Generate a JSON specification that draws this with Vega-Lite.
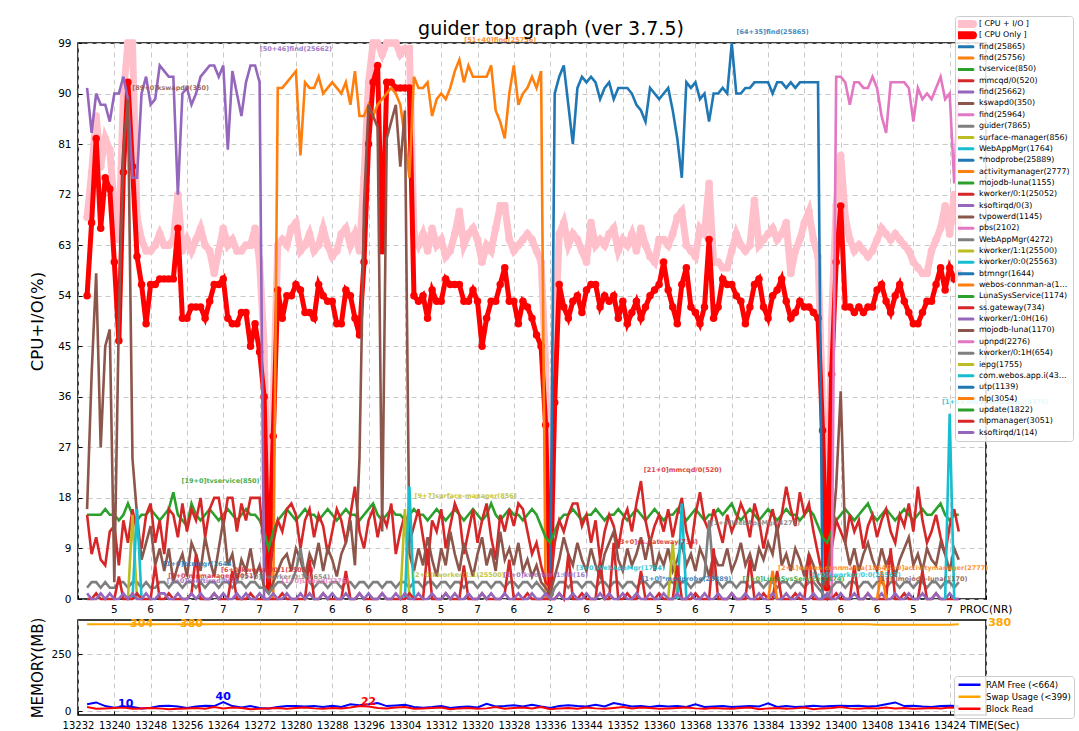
{
"$schema": "https://vega.github.io/schema/vega-lite/v6.json",
"background": "white",
"padding": {"left": 28, "top": 14, "right": 0, "bottom": 0},
"config": {
 "font": "DejaVu Sans",
 "view": {"stroke": "#000", "strokeWidth": 1.5},
 "axis": {"domain": false, "grid": true, "gridColor": "#c8c8c8", "gridDash": [5, 4], "gridWidth": 1, "tickColor": "#000", "tickSize": -4, "tickWidth": 1, "labelFont": "DejaVu Sans", "labelFontSize": 10.5, "labelColor": "#000", "titleFont": "DejaVu Sans", "titleFontWeight": "normal", "titleColor": "#000", "labelOverlap": false, "labelFlush": false},
 "legend": {"labelFont": "DejaVu Sans", "labelColor": "#000", "symbolLimit": 0}
},
"datasets": {
 "cpu": [
{"t":13234,"io":68,"cpu":54,"f1":91,"tv":15,"mm":15,"ks":16,"gd":2,"k1":0,"so":1},
{"t":13235,"io":76,"cpu":67,"f1":83,"tv":15,"mm":8,"ks":40,"gd":3,"k1":0,"so":0},
{"t":13236,"io":86,"cpu":82,"f1":90,"tv":15,"mm":11,"ks":58,"gd":3,"k1":1,"so":0},
{"t":13237,"io":77,"cpu":66,"f1":88,"tv":15,"mm":7,"ks":27,"gd":2,"k1":0,"so":1},
{"t":13238,"io":82,"cpu":75,"f1":88,"tv":16,"mm":6,"ks":45,"gd":3,"k1":0,"so":0},
{"t":13239,"io":80,"cpu":73,"f1":85,"tv":15,"mm":12,"ks":48,"gd":2,"k1":0,"so":1},
{"t":13240,"io":70,"cpu":60,"f1":90,"tv":15,"mm":13,"ks":3,"gd":2,"k1":0,"so":0},
{"t":13241,"io":64,"cpu":46,"f1":90,"tv":14,"mm":6,"ks":50,"gd":3,"k1":4,"so":0},
{"t":13242,"io":90,"cpu":76,"f1":93,"tv":15,"mm":14,"ks":80,"gd":3,"k1":0,"so":1},
{"t":13243,"io":99,"cpu":92,"f1":89,"tv":17,"mm":10,"ks":89,"gd":2,"k1":0,"so":0,"sm":0},
{"t":13244,"io":99,"cpu":77,"f1":75,"tv":15,"mm":16,"ks":25,"gd":3,"k1":0,"so":1,"sm":15,"wa":0},
{"t":13245,"io":68,"cpu":61,"f1":75,"tv":14,"mm":12,"ks":15,"gd":3,"k1":1,"so":0,"sm":0,"wa":16},
{"t":13246,"io":64,"cpu":56,"f1":90,"tv":15,"mm":9,"ks":7,"gd":2,"k1":0,"so":0,"wa":0},
{"t":13247,"io":62,"cpu":49,"f1":93,"tv":15,"mm":15,"ks":10,"gd":3,"k1":0,"so":1},
{"t":13248,"io":62,"cpu":56,"f1":88,"tv":16,"mm":17,"ks":13,"gd":2,"k1":0,"so":0},
{"t":13249,"io":63,"cpu":56,"f1":89,"tv":15,"mm":10,"ks":6,"gd":2,"k1":6,"so":0},
{"t":13250,"io":65,"cpu":57,"f1":95,"tv":14,"mm":14,"ks":9,"gd":3,"k1":0,"so":1},
{"t":13251,"io":63,"cpu":57,"f1":94,"tv":15,"mm":8,"ks":5,"gd":3,"k1":0,"so":1},
{"t":13252,"io":63,"cpu":57,"f1":93,"tv":16,"mm":16,"ks":9,"gd":2,"k1":1,"so":0},
{"t":13253,"io":64,"cpu":57,"f1":93,"tv":19,"mm":15,"ks":3,"gd":3,"k1":0,"so":0},
{"t":13254,"io":72,"cpu":66,"f1":72,"tv":15,"mm":11,"ks":6,"gd":3,"k1":0,"so":1},
{"t":13255,"io":62,"cpu":50,"f1":90,"tv":14,"mm":17,"ks":8,"gd":2,"k1":0,"so":0},
{"t":13256,"io":64,"cpu":50,"f1":91,"tv":13,"mm":12,"ks":4,"gd":3,"k1":0,"so":0},
{"t":13257,"io":62,"cpu":52,"f1":88,"tv":17,"mm":16,"ks":10,"gd":3,"k1":1,"so":1},
{"t":13258,"io":64,"cpu":52,"f1":90,"tv":15,"mm":14,"ks":8,"gd":2,"k1":8,"so":0},
{"t":13259,"io":66,"cpu":52,"f1":93,"tv":14,"mm":18,"ks":5,"gd":3,"k1":0,"so":1},
{"t":13260,"io":63,"cpu":50,"f1":94,"tv":15,"mm":11,"ks":11,"gd":2,"k1":0,"so":0},
{"t":13261,"io":62,"cpu":53,"f1":95,"tv":16,"mm":16,"ks":7,"gd":3,"k1":0,"so":0},
{"t":13262,"io":58,"cpu":56,"f1":95,"tv":15,"mm":18,"ks":4,"gd":3,"k1":1,"so":1},
{"t":13263,"io":62,"cpu":56,"f1":93,"tv":14,"mm":18,"ks":9,"gd":2,"k1":0,"so":0},
{"t":13264,"io":66,"cpu":57,"f1":95,"tv":15,"mm":13,"ks":14,"gd":3,"k1":0,"so":1},
{"t":13265,"io":63,"cpu":50,"f1":80,"tv":16,"mm":18,"ks":6,"gd":3,"k1":0,"so":0},
{"t":13266,"io":64,"cpu":49,"f1":94,"tv":15,"mm":18,"ks":8,"gd":2,"k1":5,"so":0},
{"t":13267,"io":62,"cpu":49,"f1":90,"tv":14,"mm":12,"ks":3,"gd":3,"k1":0,"so":1},
{"t":13268,"io":62,"cpu":51,"f1":86,"tv":15,"mm":17,"ks":7,"gd":3,"k1":0,"so":0},
{"t":13269,"io":63,"cpu":51,"f1":92,"tv":16,"mm":14,"ks":5,"gd":2,"k1":0,"so":1},
{"t":13270,"io":63,"cpu":45,"f1":95,"tv":15,"mm":18,"ks":9,"gd":3,"k1":1,"so":0},
{"t":13271,"io":66,"cpu":49,"f1":95,"tv":15,"mm":18,"ks":4,"gd":3,"k1":0,"so":0},
{"t":13272,"io":60,"cpu":44,"f1":92,"tv":14,"mm":18,"ks":6,"gd":2,"k1":0,"so":1},
{"t":13273,"io":45,"cpu":36,"f1":0,"tv":12,"mm":8,"ks":2,"gd":2,"k1":0,"so":0},
{"t":13274,"io":5,"cpu":2,"tv":9,"mm":3,"ks":1,"gd":1,"k1":0,"so":0},
{"t":13275,"io":35,"cpu":29,"f2":0,"tv":12,"mm":10,"ks":3,"gd":2,"k1":0,"so":1},
{"t":13276,"io":63,"cpu":55,"f2":91,"tv":14,"mm":14,"ks":5,"gd":3,"k1":0,"so":0},
{"t":13277,"io":64,"cpu":50,"f2":91,"tv":15,"mm":12,"ks":7,"gd":3,"k1":1,"so":0},
{"t":13278,"io":63,"cpu":54,"f2":92,"tv":16,"mm":16,"ks":8,"gd":2,"k1":0,"so":1},
{"t":13279,"io":66,"cpu":54,"f2":93,"tv":15,"mm":17,"ks":5,"gd":3,"k1":0,"so":0},
{"t":13280,"io":67,"cpu":56,"f2":94,"tv":14,"mm":15,"ks":9,"gd":5,"k1":0,"so":0},
{"t":13281,"io":62,"cpu":55,"f2":79,"tv":15,"mm":9,"ks":7,"gd":9,"k1":0,"so":1},
{"t":13282,"io":63,"cpu":51,"f2":92,"tv":16,"mm":14,"ks":4,"gd":4,"k1":0,"so":0},
{"t":13283,"io":65,"cpu":51,"f2":91,"tv":15,"mm":16,"ks":8,"gd":3,"k1":7,"so":1},
{"t":13284,"io":62,"cpu":50,"f2":91,"tv":15,"mm":11,"ks":6,"gd":2,"k1":0,"so":0},
{"t":13285,"io":63,"cpu":56,"f2":93,"tv":14,"mm":15,"ks":10,"gd":3,"k1":0,"so":0},
{"t":13286,"io":66,"cpu":54,"f2":90,"tv":15,"mm":13,"ks":5,"gd":3,"k1":1,"so":1},
{"t":13287,"io":63,"cpu":53,"f2":91,"tv":16,"mm":8,"ks":9,"gd":2,"k1":0,"so":0},
{"t":13288,"io":61,"cpu":53,"f2":92,"tv":15,"mm":12,"ks":7,"gd":3,"k1":0,"so":1},
{"t":13289,"io":62,"cpu":49,"f2":91,"tv":14,"mm":16,"ks":4,"gd":3,"k1":0,"so":0},
{"t":13290,"io":65,"cpu":49,"f2":90,"tv":15,"mm":14,"ks":8,"gd":2,"k1":0,"so":0},
{"t":13291,"io":66,"cpu":55,"f2":92,"tv":16,"mm":10,"ks":10,"gd":3,"k1":5,"so":1},
{"t":13292,"io":63,"cpu":54,"f2":88,"tv":15,"mm":15,"ks":14,"gd":3,"k1":0,"so":0},
{"t":13293,"io":65,"cpu":50,"f2":94,"tv":15,"mm":20,"ks":6,"gd":2,"k1":0,"so":0},
{"t":13294,"io":62,"cpu":47,"f2":86,"tv":14,"mm":12,"ks":25,"gd":3,"k1":1,"so":1},
{"t":13295,"io":75,"cpu":60,"f2":86,"tv":15,"mm":9,"ks":70,"gd":3,"k1":0,"so":0},
{"t":13296,"io":92,"cpu":81,"f2":88,"tv":16,"mm":14,"ks":88,"gd":2,"k1":0,"so":1},
{"t":13297,"io":99,"cpu":92,"f2":86,"tv":17,"mm":16,"ks":86,"gd":3,"k1":0,"so":0},
{"t":13298,"io":99,"cpu":95,"f2":88,"tv":15,"mm":11,"ks":84,"gd":3,"k1":0,"so":0},
{"t":13299,"io":97,"cpu":62,"f2":89,"tv":14,"mm":15,"ks":12,"gd":2,"k1":1,"so":1},
{"t":13300,"io":99,"cpu":92,"f2":90,"tv":15,"mm":13,"ks":82,"gd":3,"k1":0,"so":0},
{"t":13301,"io":99,"cpu":92,"f2":91,"tv":16,"mm":17,"ks":85,"gd":3,"k1":0,"so":0},
{"t":13302,"io":99,"cpu":91,"f2":90,"tv":15,"mm":8,"ks":88,"gd":2,"k1":0,"so":1},
{"t":13303,"io":97,"cpu":91,"f2":88,"tv":15,"mm":12,"ks":77,"gd":3,"k1":0,"so":0,"sm":0},
{"t":13304,"io":98,"cpu":91,"f2":82,"tv":14,"mm":15,"ks":87,"gd":3,"k1":0,"so":1,"sm":16,"wa":0},
{"t":13305,"io":98,"cpu":91,"f2":75,"tv":15,"mm":10,"ks":8,"gd":2,"k1":1,"so":0,"sm":0,"wa":20},
{"t":13306,"io":65,"cpu":54,"f2":93,"tv":16,"mm":13,"ks":5,"gd":3,"k1":0,"so":0,"wa":0},
{"t":13307,"io":63,"cpu":53,"f2":91,"tv":15,"mm":16,"ks":9,"gd":3,"k1":0,"so":1},
{"t":13308,"io":65,"cpu":54,"f2":91,"tv":15,"mm":11,"ks":6,"gd":2,"k1":0,"so":0},
{"t":13309,"io":62,"cpu":50,"f2":92,"tv":14,"mm":6,"ks":11,"gd":3,"k1":9,"so":0},
{"t":13310,"io":66,"cpu":55,"f2":86,"tv":15,"mm":14,"ks":7,"gd":3,"k1":0,"so":1},
{"t":13311,"io":63,"cpu":53,"f2":89,"tv":16,"mm":12,"ks":4,"gd":2,"k1":0,"so":0},
{"t":13312,"io":64,"cpu":53,"f2":90,"tv":15,"mm":16,"ks":9,"gd":3,"k1":0,"so":0},
{"t":13313,"io":61,"cpu":57,"f2":89,"tv":14,"mm":9,"ks":6,"gd":3,"k1":1,"so":1},
{"t":13314,"io":62,"cpu":56,"f2":91,"tv":15,"mm":13,"ks":12,"gd":2,"k1":0,"so":0},
{"t":13315,"io":65,"cpu":56,"f2":94,"tv":16,"mm":17,"ks":8,"gd":3,"k1":0,"so":1},
{"t":13316,"io":69,"cpu":56,"f2":96,"tv":15,"mm":15,"ks":5,"gd":3,"k1":0,"so":0},
{"t":13317,"io":63,"cpu":53,"f2":92,"tv":14,"mm":8,"ks":10,"gd":2,"k1":6,"so":0},
{"t":13318,"io":65,"cpu":53,"f2":95,"tv":15,"mm":12,"ks":7,"gd":3,"k1":0,"so":1},
{"t":13319,"io":66,"cpu":55,"f2":93,"tv":16,"mm":16,"ks":4,"gd":3,"k1":0,"so":0},
{"t":13320,"io":64,"cpu":53,"f2":93,"tv":15,"mm":10,"ks":8,"gd":2,"k1":0,"so":0},
{"t":13321,"io":60,"cpu":45,"f2":93,"tv":14,"mm":14,"ks":11,"gd":3,"k1":1,"so":1},
{"t":13322,"io":63,"cpu":50,"f2":93,"tv":15,"mm":17,"ks":6,"gd":3,"k1":0,"so":0},
{"t":13323,"io":62,"cpu":53,"f2":95,"tv":17,"mm":11,"ks":9,"gd":2,"k1":0,"so":1},
{"t":13324,"io":66,"cpu":53,"f2":87,"tv":15,"mm":7,"ks":5,"gd":3,"k1":0,"so":0},
{"t":13325,"io":70,"cpu":56,"f2":85,"tv":14,"mm":15,"ks":12,"gd":3,"k1":0,"so":0},
{"t":13326,"io":70,"cpu":59,"f2":82,"tv":15,"mm":12,"ks":7,"gd":2,"k1":1,"so":1},
{"t":13327,"io":64,"cpu":53,"f2":90,"tv":16,"mm":16,"ks":9,"gd":3,"k1":7,"so":0},
{"t":13328,"io":62,"cpu":53,"f2":95,"tv":15,"mm":13,"ks":6,"gd":3,"k1":0,"so":0},
{"t":13329,"io":63,"cpu":49,"f2":88,"tv":15,"mm":17,"ks":10,"gd":2,"k1":0,"so":1},
{"t":13330,"io":64,"cpu":53,"f2":90,"tv":14,"mm":16,"ks":5,"gd":3,"k1":0,"so":0},
{"t":13331,"io":65,"cpu":52,"f2":91,"tv":15,"mm":12,"ks":7,"gd":3,"k1":1,"so":0},
{"t":13332,"io":64,"cpu":50,"f2":93,"tv":16,"mm":8,"ks":4,"gd":2,"k1":0,"so":1},
{"t":13333,"io":62,"cpu":47,"f2":91,"tv":15,"mm":10,"ks":6,"gd":3,"k1":0,"so":0},
{"t":13334,"io":60,"cpu":45,"f2":94,"tv":13,"mm":6,"ks":3,"gd":2,"k1":0,"so":0},
{"t":13335,"io":42,"cpu":31,"f2":0,"tv":11,"mm":3,"ks":2,"gd":1,"k1":0,"so":1},
{"t":13336,"io":3,"cpu":1,"f3":0,"tv":10,"mm":2,"ks":1,"gd":0,"k1":0,"so":0},
{"t":13337,"io":45,"cpu":35,"f3":90,"tv":12,"mm":10,"ks":4,"gd":2,"k1":0,"so":0},
{"t":13338,"io":65,"cpu":56,"f3":93,"tv":14,"mm":14,"ks":7,"gd":3,"k1":1,"so":1},
{"t":13339,"io":67,"cpu":52,"f3":95,"tv":15,"mm":12,"ks":11,"gd":3,"k1":0,"so":0},
{"t":13340,"io":63,"cpu":50,"f3":88,"tv":15,"mm":15,"ks":8,"gd":2,"k1":8,"so":0},
{"t":13341,"io":65,"cpu":53,"f3":81,"tv":16,"mm":17,"ks":6,"gd":3,"k1":0,"so":1},
{"t":13342,"io":64,"cpu":54,"f3":91,"tv":15,"mm":17,"ks":10,"gd":3,"k1":0,"so":0},
{"t":13343,"io":62,"cpu":51,"f3":93,"tv":14,"mm":13,"ks":7,"gd":2,"k1":1,"so":0},
{"t":13344,"io":60,"cpu":55,"f3":92,"tv":15,"mm":15,"ks":5,"gd":3,"k1":0,"so":1},
{"t":13345,"io":67,"cpu":56,"f3":93,"tv":15,"mm":10,"ks":9,"gd":3,"k1":0,"so":0},
{"t":13346,"io":63,"cpu":56,"f3":92,"tv":16,"mm":14,"ks":6,"gd":2,"k1":0,"so":0},
{"t":13347,"io":64,"cpu":52,"f3":89,"tv":15,"mm":7,"ks":4,"gd":3,"k1":7,"so":1},
{"t":13348,"io":63,"cpu":54,"f3":91,"tv":14,"mm":12,"ks":8,"gd":3,"k1":0,"so":0},
{"t":13349,"io":65,"cpu":53,"f3":92,"tv":15,"mm":15,"ks":10,"gd":2,"k1":0,"so":1},
{"t":13350,"io":66,"cpu":54,"f3":89,"tv":15,"mm":13,"ks":12,"gd":3,"k1":10,"so":0},
{"t":13351,"io":62,"cpu":50,"f3":91,"tv":16,"mm":9,"ks":7,"gd":3,"k1":0,"so":0},
{"t":13352,"io":64,"cpu":53,"f3":91,"tv":15,"mm":14,"ks":5,"gd":2,"k1":0,"so":1},
{"t":13353,"io":63,"cpu":49,"f3":91,"tv":14,"mm":16,"ks":9,"gd":3,"k1":1,"so":0},
{"t":13354,"io":65,"cpu":51,"f3":90,"tv":15,"mm":12,"ks":6,"gd":3,"k1":0,"so":0},
{"t":13355,"io":62,"cpu":53,"f3":88,"tv":16,"mm":17,"ks":8,"gd":2,"k1":0,"so":1},
{"t":13356,"io":66,"cpu":50,"f3":87,"tv":15,"mm":21,"ks":11,"gd":3,"k1":5,"so":0},
{"t":13357,"io":63,"cpu":52,"f3":85,"tv":14,"mm":14,"ks":7,"gd":3,"k1":0,"so":0},
{"t":13358,"io":61,"cpu":54,"f3":91,"tv":15,"mm":10,"ks":11,"gd":2,"k1":0,"so":1},
{"t":13359,"io":60,"cpu":55,"f3":90,"tv":16,"mm":13,"ks":5,"gd":3,"k1":0,"so":0},
{"t":13360,"io":64,"cpu":56,"f3":89,"tv":15,"mm":15,"ks":8,"gd":3,"k1":1,"so":0},
{"t":13361,"io":64,"cpu":60,"f3":90,"tv":14,"mm":12,"ks":6,"gd":2,"k1":0,"so":1},
{"t":13362,"io":63,"cpu":55,"f3":91,"tv":15,"mm":16,"ks":9,"gd":3,"k1":0,"so":0,"sm":0},
{"t":13363,"io":65,"cpu":52,"f3":87,"tv":15,"mm":11,"ks":5,"gd":3,"k1":0,"so":0,"sm":10},
{"t":13364,"io":68,"cpu":49,"f3":82,"tv":16,"mm":15,"ks":7,"gd":2,"k1":6,"so":1,"sm":0,"wa":0},
{"t":13365,"io":69,"cpu":56,"f3":75,"tv":15,"mm":18,"ks":10,"gd":3,"k1":0,"so":0,"wa":17},
{"t":13366,"io":63,"cpu":59,"f3":92,"tv":14,"mm":12,"ks":6,"gd":3,"k1":0,"so":0,"wa":0},
{"t":13367,"io":62,"cpu":52,"f3":91,"tv":15,"mm":9,"ks":8,"gd":2,"k1":0,"so":1},
{"t":13368,"io":61,"cpu":51,"f3":92,"tv":16,"mm":15,"ks":5,"gd":3,"k1":1,"so":0},
{"t":13369,"io":66,"cpu":49,"f3":89,"tv":15,"mm":19,"ks":9,"gd":3,"k1":0,"so":0},
{"t":13370,"io":65,"cpu":52,"f3":90,"tv":14,"mm":14,"ks":7,"gd":4,"k1":0,"so":1},
{"t":13371,"io":74,"cpu":64,"f3":85,"tv":15,"mm":12,"ks":4,"gd":14,"k1":0,"so":0},
{"t":13372,"io":60,"cpu":50,"f3":90,"tv":15,"mm":16,"ks":8,"gd":4,"k1":9,"so":0},
{"t":13373,"io":60,"cpu":52,"f3":90,"tv":16,"mm":13,"ks":6,"gd":3,"k1":0,"so":1},
{"t":13374,"io":59,"cpu":57,"f3":91,"tv":15,"mm":10,"ks":6,"gd":2,"k1":0,"so":0},
{"t":13375,"io":59,"cpu":56,"f3":90,"tv":16,"mm":15,"ks":9,"gd":3,"k1":0,"so":0},
{"t":13376,"io":62,"cpu":56,"f3":99,"tv":17,"mm":12,"ks":5,"gd":3,"k1":1,"so":1},
{"t":13377,"io":65,"cpu":54,"f3":90,"tv":15,"mm":14,"ks":7,"gd":2,"k1":0,"so":0},
{"t":13378,"io":63,"cpu":53,"f3":90,"tv":14,"mm":17,"ks":10,"gd":3,"k1":0,"so":0},
{"t":13379,"io":62,"cpu":49,"f3":91,"tv":15,"mm":15,"ks":6,"gd":3,"k1":0,"so":1},
{"t":13380,"io":63,"cpu":52,"f3":91,"tv":16,"mm":11,"ks":8,"gd":2,"k1":7,"so":0},
{"t":13381,"io":71,"cpu":56,"f3":92,"tv":15,"mm":17,"ks":5,"gd":3,"k1":0,"so":0},
{"t":13382,"io":63,"cpu":57,"f3":92,"tv":14,"mm":14,"ks":9,"gd":3,"k1":0,"so":1},
{"t":13383,"io":64,"cpu":52,"f3":92,"tv":15,"mm":9,"ks":7,"gd":2,"k1":1,"so":0},
{"t":13384,"io":65,"cpu":50,"f3":92,"tv":16,"mm":13,"ks":10,"gd":3,"k1":0,"so":0,"am":0},
{"t":13385,"io":66,"cpu":54,"f3":90,"tv":15,"mm":16,"ks":8,"gd":3,"k1":0,"so":1,"am":5},
{"t":13386,"io":64,"cpu":55,"f3":92,"tv":14,"mm":12,"ks":13,"gd":2,"k1":5,"so":0,"am":0},
{"t":13387,"io":65,"cpu":57,"f3":92,"tv":15,"mm":15,"ks":6,"gd":3,"k1":0,"so":0},
{"t":13388,"io":67,"cpu":53,"f3":91,"tv":16,"mm":20,"ks":8,"gd":3,"k1":0,"so":1},
{"t":13389,"io":58,"cpu":50,"f3":92,"tv":15,"mm":16,"ks":5,"gd":2,"k1":0,"so":0},
{"t":13390,"io":62,"cpu":51,"f3":91,"tv":15,"mm":13,"ks":9,"gd":3,"k1":1,"so":0},
{"t":13391,"io":64,"cpu":53,"f3":92,"tv":14,"mm":19,"ks":7,"gd":3,"k1":0,"so":1},
{"t":13392,"io":67,"cpu":52,"f3":92,"tv":15,"mm":15,"ks":4,"gd":2,"k1":0,"so":0},
{"t":13393,"io":69,"cpu":52,"f3":92,"tv":16,"mm":17,"ks":8,"gd":3,"k1":8,"so":0},
{"t":13394,"io":64,"cpu":51,"f3":92,"tv":15,"mm":12,"ks":6,"gd":3,"k1":0,"so":1},
{"t":13395,"io":61,"cpu":50,"f3":92,"tv":13,"mm":8,"ks":3,"gd":2,"k1":0,"so":0},
{"t":13396,"io":35,"cpu":30,"f3":0,"tv":11,"mm":4,"ks":2,"gd":1,"k1":0,"so":0},
{"t":13397,"io":4,"cpu":2,"tv":10,"mm":2,"ks":5,"gd":0,"k1":0,"so":1},
{"t":13398,"io":50,"cpu":40,"f4":0,"tv":12,"mm":9,"ks":10,"gd":2,"k1":0,"so":0},
{"t":13399,"io":70,"cpu":60,"f4":93,"tv":14,"mm":14,"ks":20,"gd":3,"k1":1,"so":0},
{"t":13400,"io":79,"cpu":70,"f4":93,"tv":15,"mm":12,"ks":37,"gd":3,"k1":0,"so":1},
{"t":13401,"io":68,"cpu":52,"f4":92,"tv":16,"mm":10,"ks":10,"gd":2,"k1":0,"so":0},
{"t":13402,"io":64,"cpu":52,"f4":88,"tv":15,"mm":15,"ks":6,"gd":3,"k1":0,"so":0},
{"t":13403,"io":62,"cpu":51,"f4":92,"tv":14,"mm":12,"ks":9,"gd":3,"k1":6,"so":1},
{"t":13404,"io":63,"cpu":52,"f4":92,"tv":15,"mm":14,"ks":5,"gd":2,"k1":0,"so":0},
{"t":13405,"io":62,"cpu":51,"f4":91,"tv":16,"mm":9,"ks":8,"gd":3,"k1":0,"so":0},
{"t":13406,"io":61,"cpu":52,"f4":91,"tv":17,"mm":13,"ks":10,"gd":3,"k1":1,"so":1},
{"t":13407,"io":62,"cpu":52,"f4":93,"tv":15,"mm":15,"ks":7,"gd":2,"k1":0,"so":0},
{"t":13408,"io":64,"cpu":55,"f4":91,"tv":14,"mm":11,"ks":5,"gd":3,"k1":0,"so":0,"am":0},
{"t":13409,"io":66,"cpu":56,"f4":86,"tv":15,"mm":14,"ks":9,"gd":3,"k1":0,"so":1,"am":5},
{"t":13410,"io":65,"cpu":53,"f4":83,"tv":16,"mm":16,"ks":6,"gd":2,"k1":0,"so":0,"am":0},
{"t":13411,"io":64,"cpu":51,"f4":92,"tv":15,"mm":12,"ks":8,"gd":3,"k1":9,"so":0},
{"t":13412,"io":65,"cpu":54,"f4":92,"tv":14,"mm":10,"ks":4,"gd":3,"k1":0,"so":1},
{"t":13413,"io":64,"cpu":56,"f4":92,"tv":15,"mm":15,"ks":7,"gd":2,"k1":0,"so":0},
{"t":13414,"io":63,"cpu":53,"f4":92,"tv":16,"mm":13,"ks":9,"gd":3,"k1":1,"so":0},
{"t":13415,"io":62,"cpu":51,"f4":91,"tv":15,"mm":17,"ks":11,"gd":3,"k1":0,"so":1},
{"t":13416,"io":60,"cpu":49,"f4":85,"tv":14,"mm":12,"ks":6,"gd":2,"k1":0,"so":0},
{"t":13417,"io":59,"cpu":49,"f4":91,"tv":15,"mm":20,"ks":8,"gd":3,"k1":0,"so":0},
{"t":13418,"io":58,"cpu":51,"f4":89,"tv":16,"mm":14,"ks":5,"gd":3,"k1":5,"so":1},
{"t":13419,"io":58,"cpu":53,"f4":90,"tv":15,"mm":10,"ks":9,"gd":2,"k1":0,"so":0},
{"t":13420,"io":62,"cpu":53,"f4":89,"tv":15,"mm":12,"ks":7,"gd":3,"k1":0,"so":0},
{"t":13421,"io":64,"cpu":56,"f4":91,"tv":16,"mm":15,"ks":6,"gd":3,"k1":1,"so":1},
{"t":13422,"io":66,"cpu":59,"f4":93,"tv":17,"mm":11,"ks":10,"gd":2,"k1":0,"so":0},
{"t":13423,"io":70,"cpu":55,"f4":89,"tv":15,"mm":8,"ks":8,"gd":3,"k1":0,"so":0,"cw":0},
{"t":13424,"io":65,"cpu":59,"f4":90,"tv":14,"mm":13,"ks":5,"gd":3,"k1":0,"so":1,"cw":33},
{"t":13425,"io":72,"cpu":57,"f4":74,"tv":15,"mm":16,"ks":9,"gd":2,"k1":0,"so":0,"cw":0},
{"t":13426,"io":66,"cpu":58,"f4":93,"tv":15,"mm":12,"ks":7,"gd":3,"k1":0,"so":0}
 ],
 "notes": [
{"t":13280,"v":98,"txt":"[50+46]find(25662)","s":"f1"},
{"t":13252.4,"v":91,"txt":"[89+0]kswapd0(350)","s":"ks"},
{"t":13325,"v":99.6,"txt":"[51+40]find(25756)","s":"f2"},
{"t":13385,"v":101,"txt":"[64+35]find(25865)","s":"f3"},
{"t":13263.4,"v":21,"txt":"[19+0]tvservice(850)","s":"tv"},
{"t":13365.2,"v":23,"txt":"[21+0]mmcqd/0(520)","s":"mm"},
{"t":13317.4,"v":18.3,"txt":"[9+7]surface-manager(856)","s":"sm"},
{"t":13359.6,"v":10.1,"txt":"[3+0]ss.gateway(734)","s":"ss"},
{"t":13381.2,"v":13.5,"txt":"[1+4]WebAppMgr(4272)","s":"w2"},
{"t":13351.5,"v":5.6,"txt":"[3+0]WebAppMgr(1764)","s":"wa"},
{"t":13366,"v":3.5,"txt":"[1+0]*modprobe(25889)","s":"mp"},
{"t":13389.6,"v":3.5,"txt":"[1+0]LunaSysService(1174)","s":"lu"},
{"t":13398.4,"v":5.6,"txt":"[2+1]webos-connman-a(1864)","s":"wc"},
{"t":13403,"v":4.2,"txt":"[1+0]kworker/0:0(25563)","s":"k00"},
{"t":13421,"v":5.6,"txt":"[2+0]activitymanager(2777)","s":"am"},
{"t":13418,"v":3.5,"txt":"[1+0]mojodb-luna(1170)","s":"mj2"},
{"t":13434,"v":35,"txt":"[1+0]com.webos.app.i(4375)","s":"cw"},
{"t":13258.6,"v":6.2,"txt":"[1+0]btmngr(1644)","s":"bt"},
{"t":13273.7,"v":5.1,"txt":"[6+0]kworker/0:1(25052)","s":"k1"},
{"t":13261.6,"v":4.1,"txt":"[2+0]nlpmanager(3051)","s":"nm"},
{"t":13277.7,"v":4,"txt":"[1+0]kworker/0:1H(654)","s":"k01h"},
{"t":13259.4,"v":3.2,"txt":"[1+0]ksoftirqd/0(3)","s":"so"},
{"t":13284.3,"v":3.2,"txt":"[1+0]upnpd(2276)","s":"up"},
{"t":13315.8,"v":4.3,"txt":"[2+0]kworker/1:1(25500)","s":"k11"},
{"t":13335,"v":4.3,"txt":"[1+0]kworker/1:0H(16)","s":"k10h"}
 ],
 "proc": [
{"t":13240,"n":"5"},{"t":13248,"n":"6"},{"t":13256,"n":"7"},{"t":13264,"n":"7"},{"t":13272,"n":"7"},{"t":13280,"n":"7"},{"t":13288,"n":"6"},{"t":13296,"n":"6"},{"t":13304,"n":"8"},{"t":13312,"n":"5"},{"t":13320,"n":"7"},{"t":13328,"n":"6"},{"t":13336,"n":"2"},{"t":13344,"n":"6"},{"t":13360,"n":"5"},{"t":13368,"n":"6"},{"t":13376,"n":"7"},{"t":13384,"n":"5"},{"t":13392,"n":"5"},{"t":13400,"n":"6"},{"t":13408,"n":"6"},{"t":13416,"n":"5"},{"t":13424,"n":"7"},{"t":13432,"n":"PROC(NR)"}
 ],
 "mem": [
{"t":13234,"ram":30,"blk":18,"swap":380},{"t":13236,"ram":38,"blk":10,"swap":380},{"t":13238,"ram":22,"blk":12,"swap":380},{"t":13240,"ram":15,"blk":14,"swap":380},
{"t":13242,"ram":20,"blk":16,"swap":380},{"t":13244,"ram":18,"blk":10,"swap":380},{"t":13246,"ram":12,"blk":12,"swap":380},{"t":13248,"ram":15,"blk":14,"swap":380},
{"t":13250,"ram":22,"blk":12,"swap":380},{"t":13252,"ram":24,"blk":8,"swap":380},{"t":13254,"ram":20,"blk":10,"swap":380},{"t":13256,"ram":14,"blk":12,"swap":380},
{"t":13258,"ram":20,"blk":14,"swap":380},{"t":13260,"ram":24,"blk":10,"swap":380},{"t":13262,"ram":22,"blk":18,"swap":380},{"t":13264,"ram":40,"blk":12,"swap":380},
{"t":13266,"ram":22,"blk":16,"swap":380},{"t":13268,"ram":16,"blk":14,"swap":380},{"t":13270,"ram":22,"blk":8,"swap":380},{"t":13272,"ram":14,"blk":10,"swap":380},
{"t":13274,"ram":12,"blk":12,"swap":380},{"t":13276,"ram":18,"blk":14,"swap":380},{"t":13278,"ram":22,"blk":10,"swap":380},{"t":13280,"ram":22,"blk":14,"swap":380},
{"t":13282,"ram":20,"blk":16,"swap":380},{"t":13284,"ram":22,"blk":12,"swap":380},{"t":13286,"ram":18,"blk":10,"swap":380},{"t":13288,"ram":24,"blk":14,"swap":380},
{"t":13290,"ram":18,"blk":12,"swap":380},{"t":13292,"ram":30,"blk":16,"swap":380},{"t":13294,"ram":26,"blk":22,"swap":380},{"t":13296,"ram":30,"blk":20,"swap":380},
{"t":13298,"ram":35,"blk":14,"swap":380},{"t":13300,"ram":22,"blk":12,"swap":380},{"t":13302,"ram":25,"blk":16,"swap":380},{"t":13304,"ram":28,"blk":18,"swap":380},
{"t":13306,"ram":18,"blk":10,"swap":380},{"t":13308,"ram":15,"blk":12,"swap":380},{"t":13310,"ram":18,"blk":14,"swap":380},{"t":13312,"ram":22,"blk":16,"swap":380},
{"t":13314,"ram":14,"blk":8,"swap":380},{"t":13316,"ram":18,"blk":12,"swap":380},{"t":13318,"ram":20,"blk":14,"swap":380},{"t":13320,"ram":16,"blk":10,"swap":380},
{"t":13322,"ram":32,"blk":12,"swap":380},{"t":13324,"ram":20,"blk":18,"swap":380},{"t":13326,"ram":22,"blk":10,"swap":380},{"t":13328,"ram":26,"blk":14,"swap":380},
{"t":13330,"ram":20,"blk":16,"swap":380},{"t":13332,"ram":28,"blk":12,"swap":380},{"t":13334,"ram":20,"blk":18,"swap":380},{"t":13336,"ram":14,"blk":8,"swap":380},
{"t":13338,"ram":22,"blk":12,"swap":380},{"t":13340,"ram":26,"blk":14,"swap":380},{"t":13342,"ram":22,"blk":10,"swap":380},{"t":13344,"ram":20,"blk":16,"swap":380},
{"t":13346,"ram":28,"blk":12,"swap":380},{"t":13348,"ram":20,"blk":10,"swap":380},{"t":13350,"ram":35,"blk":14,"swap":380},{"t":13352,"ram":28,"blk":18,"swap":380},
{"t":13354,"ram":20,"blk":12,"swap":380},{"t":13356,"ram":22,"blk":16,"swap":380},{"t":13358,"ram":18,"blk":14,"swap":380},{"t":13360,"ram":24,"blk":10,"swap":380},
{"t":13362,"ram":20,"blk":12,"swap":380},{"t":13364,"ram":22,"blk":14,"swap":380},{"t":13366,"ram":18,"blk":16,"swap":380},{"t":13368,"ram":30,"blk":12,"swap":380},
{"t":13370,"ram":18,"blk":10,"swap":380},{"t":13372,"ram":20,"blk":14,"swap":380},{"t":13374,"ram":22,"blk":12,"swap":380},{"t":13376,"ram":18,"blk":10,"swap":380},
{"t":13378,"ram":20,"blk":14,"swap":380},{"t":13380,"ram":22,"blk":16,"swap":380},{"t":13382,"ram":20,"blk":8,"swap":380},{"t":13384,"ram":34,"blk":12,"swap":380},
{"t":13386,"ram":18,"blk":14,"swap":380},{"t":13388,"ram":22,"blk":10,"swap":380},{"t":13390,"ram":18,"blk":12,"swap":380},{"t":13392,"ram":20,"blk":16,"swap":380},
{"t":13394,"ram":24,"blk":8,"swap":380},{"t":13396,"ram":20,"blk":12,"swap":380},{"t":13398,"ram":22,"blk":14,"swap":380},{"t":13400,"ram":24,"blk":18,"swap":380},
{"t":13402,"ram":22,"blk":12,"swap":380},{"t":13404,"ram":24,"blk":10,"swap":380},{"t":13406,"ram":20,"blk":14,"swap":380},{"t":13408,"ram":22,"blk":12,"swap":378},
{"t":13410,"ram":30,"blk":16,"swap":378},{"t":13412,"ram":38,"blk":12,"swap":378},{"t":13414,"ram":22,"blk":14,"swap":378},{"t":13416,"ram":24,"blk":10,"swap":378},
{"t":13418,"ram":20,"blk":12,"swap":378},{"t":13420,"ram":18,"blk":14,"swap":378},{"t":13422,"ram":22,"blk":12,"swap":378},{"t":13424,"ram":24,"blk":16,"swap":378},
{"t":13426,"ram":22,"blk":14,"swap":380}
 ],
 "mtext": [
{"t":13242.5,"v":30,"txt":"10","s":"ram"},
{"t":13264,"v":60,"txt":"40","s":"ram"},
{"t":13296,"v":40,"txt":"22","s":"blk"},
{"t":13246,"v":382,"txt":"304","s":"swap"},
{"t":13257,"v":382,"txt":"380","s":"swap"},
{"t":13435,"v":386,"txt":"380","s":"swap"}
 ]
},
"spacing": 0,
"bounds": "flush",
"resolve": {"scale": {"color": "independent", "fill": "independent", "x": "independent", "y": "independent"}, "legend": {"color": "independent", "fill": "independent"}},
"vconcat": [
 {
  "width": 908, "height": 556,
  "title": {"text": "guider top graph (ver 3.7.5)", "fontSize": 19, "fontWeight": "normal", "color": "#000", "offset": 5, "dx": 19, "dy": 28},
  "data": {"name": "cpu"},
  "encoding": {"x": {"field": "t", "type": "quantitative", "scale": {"domain": [13232, 13432], "nice": false, "zero": false}, "axis": {"values": [13232,13240,13248,13256,13264,13272,13280,13288,13296,13304,13312,13320,13328,13336,13344,13352,13360,13368,13376,13384,13392,13400,13408,13416,13424,13432], "labels": false, "title": null}}},
  "layer": [
   {"mark": {"type": "line", "color": "#ffc0cb", "strokeWidth": 7, "point": {"filled": true, "size": 60, "color": "#ffc0cb"}},
    "encoding": {"y": {"field": "io", "type": "quantitative", "scale": {"domain": [0, 99], "nice": false, "zero": false}, "title": "CPU+I/O(%)", "axis": {"values": [0,9,18,27,36,45,54,63,72,81,90,99], "titleFontSize": 16.5, "titleX": -33, "labelPadding": 11}}}},
   {"mark": {"type": "line", "color": "#ff0000", "strokeWidth": 5, "point": {"filled": true, "size": 56, "color": "#ff0000"}},
    "encoding": {"y": {"field": "cpu", "type": "quantitative", "scale": {"domain": [0, 99], "nice": false, "zero": false}, "title": "CPU+I/O(%)"}}},
   {"transform": [{"fold": ["f3","f2","tv","mm","f1","ks","f4","gd","sm","wa","k1","so","am","cw"], "as": ["s","v"]}],
    "mark": {"type": "line", "strokeWidth": 2.6},
    "encoding": {
     "y": {"field": "v", "type": "quantitative", "scale": {"domain": [0, 99], "nice": false, "zero": false}, "title": "CPU+I/O(%)"},
     "color": {"field": "s", "type": "nominal",
      "scale": {"domain": ["io","cpu","f3","f2","tv","mm","f1","ks","f4","gd","sm","wa","mp","am","mj","k1","so","tp","pb","w2","k11","k00","bt","wc","lu","ss","k10h","mj2","up","k01h","ie","cw","ut","nl","ud","nm","so1"],
                "range": ["#ffc0cb","#ff0000","#1f77b4","#ff7f0e","#2ca02c","#d62728","#9467bd","#8c564b","#e377c2","#7f7f7f","#bcbd22","#17becf","#1f77b4","#ff7f0e","#2ca02c","#d62728","#9467bd","#8c564b","#e377c2","#7f7f7f","#bcbd22","#17becf","#1f77b4","#ff7f0e","#2ca02c","#d62728","#9467bd","#8c564b","#e377c2","#7f7f7f","#bcbd22","#17becf","#1f77b4","#ff7f0e","#2ca02c","#d62728","#9467bd"]},
      "legend": {"orient": "none", "legendX": 877, "legendY": -27, "title": null, "symbolType": "stroke", "symbolSize": 484, "symbolStrokeWidth": 3, "symbolLimit": 0, "labelFontSize": 7.9, "labelLimit": 92, "labelOffset": 13, "clipHeight": 10, "rowPadding": 1.35, "padding": 3, "fillColor": "rgba(255,255,255,0.85)", "strokeColor": "#cccccc", "cornerRadius": 3,
       "labelExpr": "{'io':'[ CPU + I/O ]','cpu':'[ CPU Only ]','f3':'find(25865)','f2':'find(25756)','tv':'tvservice(850)','mm':'mmcqd/0(520)','f1':'find(25662)','ks':'kswapd0(350)','f4':'find(25964)','gd':'guider(7865)','sm':'surface-manager(856)','wa':'WebAppMgr(1764)','mp':'*modprobe(25889)','am':'activitymanager(2777)','mj':'mojodb-luna(1155)','k1':'kworker/0:1(25052)','so':'ksoftirqd/0(3)','tp':'tvpowerd(1145)','pb':'pbs(2102)','w2':'WebAppMgr(4272)','k11':'kworker/1:1(25500)','k00':'kworker/0:0(25563)','bt':'btmngr(1644)','wc':'webos-connman-a(1864)','lu':'LunaSysService(1174)','ss':'ss.gateway(734)','k10h':'kworker/1:0H(16)','mj2':'mojodb-luna(1170)','up':'upnpd(2276)','k01h':'kworker/0:1H(654)','ie':'iepg(1755)','cw':'com.webos.app.i(4375)','ut':'utp(1139)','nl':'nlp(3054)','ud':'update(1822)','nm':'nlpmanager(3051)','so1':'ksoftirqd/1(14)'}[datum.label]",
       "encode": {"symbols": {"update": {"strokeWidth": {"signal": "datum.value === 'io' || datum.value === 'cpu' ? 8 : 3"}, "strokeCap": {"value": "round"}}}}}
     }
    }},
   {"data": {"name": "notes"},
    "mark": {"type": "text", "fontSize": 6.5, "fontWeight": "bold", "opacity": 0.85},
    "encoding": {
     "y": {"field": "v", "type": "quantitative", "scale": {"domain": [0, 99], "nice": false, "zero": false}, "title": "CPU+I/O(%)"},
     "text": {"field": "txt"},
     "fill": {"field": "s", "type": "nominal", "legend": null,
      "scale": {"domain": ["io","cpu","f3","f2","tv","mm","f1","ks","f4","gd","sm","wa","mp","am","mj","k1","so","tp","pb","w2","k11","k00","bt","wc","lu","ss","k10h","mj2","up","k01h","ie","cw","ut","nl","ud","nm","so1"],
                "range": ["#ffc0cb","#ff0000","#1f77b4","#ff7f0e","#2ca02c","#d62728","#9467bd","#8c564b","#e377c2","#7f7f7f","#bcbd22","#17becf","#1f77b4","#ff7f0e","#2ca02c","#d62728","#9467bd","#8c564b","#e377c2","#7f7f7f","#bcbd22","#17becf","#1f77b4","#ff7f0e","#2ca02c","#d62728","#9467bd","#8c564b","#e377c2","#7f7f7f","#bcbd22","#17becf","#1f77b4","#ff7f0e","#2ca02c","#d62728","#9467bd"]}}
    }}
  ]
 },
 {
  "width": 908, "height": 21,
  "view": {"stroke": null},
  "data": {"name": "proc"},
  "mark": {"type": "text", "fontSize": 10.5, "color": "#000"},
  "encoding": {
   "x": {"field": "t", "type": "quantitative", "scale": {"domain": [13232, 13432], "nice": false, "zero": false}, "axis": null},
   "text": {"field": "n"}
  }
 },
 {
  "width": 908, "height": 95,
  "data": {"name": "mem"},
  "encoding": {"x": {"field": "t", "type": "quantitative", "scale": {"domain": [13232, 13432], "nice": false, "zero": false}, "axis": {"values": [13232,13240,13248,13256,13264,13272,13280,13288,13296,13304,13312,13320,13328,13336,13344,13352,13360,13368,13376,13384,13392,13400,13408,13416,13424,13432], "format": "d", "labelExpr": "datum.value == 13432 ? 'TIME(Sec)' : datum.label", "labelOffset": {"condition": {"test": "datum.value == 13432", "value": 8}, "value": 0}, "title": null, "labelPadding": 9, "labelFontSize": 10, "labelOverlap": false, "labelFlush": false}}},
  "layer": [
   {"transform": [{"fold": ["ram","swap","blk"], "as": ["s","v"]}],
    "mark": {"type": "line", "strokeWidth": 2},
    "encoding": {
     "y": {"field": "v", "type": "quantitative", "scale": {"domain": [-17, 399], "nice": false, "zero": false}, "title": "MEMORY(MB)", "axis": {"values": [0, 250], "titleFontSize": 15, "titleX": -33, "labelPadding": 11}},
     "color": {"field": "s", "type": "nominal", "scale": {"domain": ["ram","swap","blk"], "range": ["#0000ff","#ffa500","#ff0000"]},
      "legend": {"orient": "none", "legendX": 876, "legendY": 56, "title": null, "symbolType": "stroke", "symbolSize": 484, "symbolStrokeWidth": 2.5, "labelFontSize": 8.5, "clipHeight": 11.5, "rowPadding": 0, "padding": 3, "fillColor": "rgba(255,255,255,0.85)", "strokeColor": "#cccccc", "cornerRadius": 3,
       "labelExpr": "{'ram':'RAM Free (<664)','swap':'Swap Usage (<399)','blk':'Block Read'}[datum.label]"}}
    }},
   {"data": {"name": "mtext"},
    "mark": {"type": "text", "fontSize": 11, "fontWeight": "bold"},
    "encoding": {
     "y": {"field": "v", "type": "quantitative", "scale": {"domain": [-17, 399], "nice": false, "zero": false}, "title": "MEMORY(MB)"},
     "text": {"field": "txt"},
     "fill": {"field": "s", "type": "nominal", "legend": null, "scale": {"domain": ["ram","swap","blk"], "range": ["#0000ff","#ffa500","#ff0000"]}}
    }}
  ]
 }
]
}
